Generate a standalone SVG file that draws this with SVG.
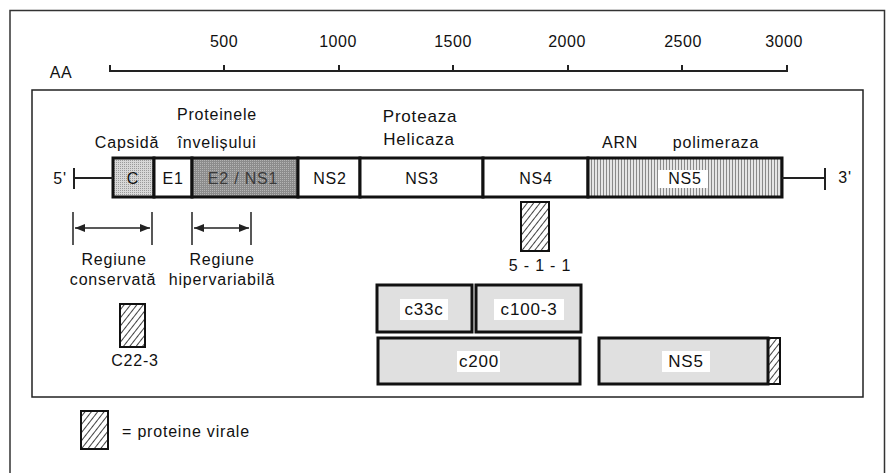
<svg xmlns="http://www.w3.org/2000/svg" width="886" height="473" viewBox="0 0 886 473">
  <style>
    text { font-family: "Liberation Sans", Arial, sans-serif; fill: #111; }
    .scale { font-size: 16px; letter-spacing: 0.5px; text-anchor: middle; }
    .lbl { font-size: 16px; letter-spacing: 0.8px; text-anchor: middle; }
    .seg { stroke: #111; stroke-width: 3; }
    .ag { fill: #e0e0e0; stroke: #111; stroke-width: 3; }
    .hatch { fill: url(#hatch); stroke: #111; stroke-width: 2; }
    .line { stroke: #222; stroke-width: 2; fill: none; }
    .thin { stroke: #222; stroke-width: 1.5; fill: none; }
  </style>
  <defs>
    <pattern id="hatch" width="5" height="5" patternUnits="userSpaceOnUse" patternTransform="rotate(38)">
      <rect width="5" height="5" fill="#fff"/>
      <line x1="0" y1="0" x2="0" y2="5" stroke="#111" stroke-width="1.6"/>
    </pattern>
    <pattern id="stripes" width="3" height="4" patternUnits="userSpaceOnUse">
      <rect width="3" height="4" fill="#e6e6e6"/>
      <line x1="0.5" y1="0" x2="0.5" y2="4" stroke="#8a8a8a" stroke-width="1"/>
    </pattern>
    <pattern id="stipple" width="2" height="2" patternUnits="userSpaceOnUse">
      <rect width="2" height="2" fill="#d8d8d8"/>
      <rect width="1" height="1" fill="#9a9a9a"/>
    </pattern>
    <pattern id="dark" width="2" height="2" patternUnits="userSpaceOnUse">
      <rect width="2" height="2" fill="#8c8c8c"/>
      <rect width="1" height="1" fill="#b4b4b4"/>
    </pattern>
    <marker id="arrow" viewBox="0 0 10 8" refX="10" refY="4" markerWidth="10" markerHeight="8" markerUnits="userSpaceOnUse" orient="auto-start-reverse">
      <path d="M0,0 L10,4 L0,8 Z" fill="#222"/>
    </marker>
  </defs>

  <rect width="886" height="473" fill="#fff"/>

  <!-- outer border (open at the bottom) -->
  <path d="M10,473 V10.5 H884.5 V473" fill="none" stroke="#333" stroke-width="1.5"/>

  <!-- amino-acid scale -->
  <g id="scale">
    <text x="61" y="78" class="scale" style="font-size:16px">AA</text>
    <path class="line" d="M110,65 V71 H787 V65 M224,65 V71 M339,65 V71 M453,65 V71 M568,65 V71 M682,65 V71"/>
    <text x="224" y="47" class="scale">500</text>
    <text x="338" y="47" class="scale">1000</text>
    <text x="453" y="47" class="scale">1500</text>
    <text x="567" y="47" class="scale">2000</text>
    <text x="683" y="47" class="scale">2500</text>
    <text x="784" y="47" class="scale">3000</text>
  </g>

  <!-- inner frame -->
  <rect x="32" y="90" width="831" height="307" fill="none" stroke="#222" stroke-width="1.5"/>

  <!-- functional labels -->
  <g id="labels">
    <text x="127" y="148" class="lbl">Capsidă</text>
    <text x="217" y="120" class="lbl">Proteinele</text>
    <text x="217" y="148" class="lbl">învelișului</text>
    <text x="420" y="122" class="lbl" style="font-size:17px">Proteaza</text>
    <text x="419" y="145" class="lbl" style="font-size:17px">Helicaza</text>
    <text x="620" y="148" class="lbl">ARN</text>
    <text x="716" y="148" class="lbl">polimeraza</text>
  </g>

  <!-- genome ends -->
  <g id="end5">
    <text x="60" y="184" class="lbl">5'</text>
  </g>
  <g id="end3">
    <text x="845" y="183" class="lbl">3'</text>
  </g>

  <!-- genome segments -->
  <g id="seg-C">
    <rect x="113" y="158" width="41" height="39" fill="url(#stipple)" class="seg"/>
    <text x="133" y="184" class="lbl">C</text>
  </g>
  <g id="seg-E1">
    <rect x="154" y="158" width="38" height="39" fill="#fff" class="seg"/>
    <text x="173" y="184" class="lbl">E1</text>
  </g>
  <g id="seg-E2NS1">
    <rect x="192" y="158" width="106" height="39" fill="url(#dark)" class="seg"/>
    <text x="243" y="184" class="lbl" style="fill:#3a3a3a">E2 / NS1</text>
  </g>
  <g id="seg-NS2">
    <rect x="298" y="158" width="62" height="39" fill="#fff" class="seg"/>
    <text x="330" y="184" class="lbl">NS2</text>
  </g>
  <g id="seg-NS3">
    <rect x="360" y="158" width="123" height="39" fill="#fff" class="seg"/>
    <text x="422" y="184" class="lbl">NS3</text>
  </g>
  <g id="seg-NS4">
    <rect x="483" y="158" width="105" height="39" fill="#fff" class="seg"/>
    <text x="536" y="184" class="lbl">NS4</text>
  </g>
  <g id="seg-NS5">
    <rect x="588" y="158" width="194" height="39" fill="url(#stripes)" class="seg"/>
    <rect x="658" y="170" width="50" height="18" fill="#fff"/>
    <text x="685" y="184" class="lbl">NS5</text>
  </g>

  <!-- regions -->
  <g id="region-conserved">
    <text x="114" y="265" class="lbl">Regiune</text>
    <text x="113" y="285" class="lbl">conservată</text>
  </g>
  <g id="region-hypervariable">
    <text x="222" y="265" class="lbl">Regiune</text>
    <text x="222" y="285" class="lbl">hipervariabilă</text>
  </g>

  <!-- antigens -->
  <g id="ag-c22-3">
    <rect x="120" y="304" width="25" height="43" class="hatch"/>
    <text x="135" y="366" class="lbl">C22-3</text>
  </g>
  <g id="ag-5-1-1">
    <rect x="521" y="202" width="28" height="49" class="hatch"/>
    <text x="540" y="271" class="lbl">5 - 1 - 1</text>
  </g>
  <g id="ag-c33c">
    <rect x="377" y="285" width="95" height="47" class="ag"/>
    <rect x="400" y="299" width="48" height="21" fill="#fff"/>
    <text x="424" y="315" class="lbl" style="font-size:17px">c33c</text>
  </g>
  <g id="ag-c100-3">
    <rect x="476" y="285" width="105" height="47" class="ag"/>
    <rect x="494" y="299" width="70" height="21" fill="#fff"/>
    <text x="529" y="315" class="lbl" style="font-size:17px">c100-3</text>
  </g>
  <g id="ag-c200">
    <rect x="378" y="338" width="202" height="46" class="ag"/>
    <rect x="457" y="351" width="43" height="21" fill="#fff"/>
    <text x="479" y="367" class="lbl" style="font-size:17px">c200</text>
  </g>
  <g id="ag-NS5">
    <rect x="768" y="338" width="12" height="46" class="hatch"/>
    <rect x="599" y="338" width="169" height="46" class="ag"/>
    <rect x="662" y="351" width="48" height="21" fill="#fff"/>
    <text x="686" y="367" class="lbl" style="font-size:17px">NS5</text>
  </g>

  <!-- legend -->
  <g id="legend">
    <rect x="81" y="411" width="27" height="38" class="hatch"/>
    <text x="122" y="437" style="font-size:16px;letter-spacing:0.8px">= proteine virale</text>
  </g>

  <!-- connectors: genome end lines and region spans -->
  <g id="connectors">
    <path class="line" d="M74,168 V189 M74,178 H113"/>
    <path class="line" d="M782,178 H825 M825,168 V190"/>
    <path class="thin" d="M73,212 V245 M152,212 V245 M192,212 V245 M251,212 V245"/>
    <line class="thin" x1="75" y1="228" x2="150" y2="228" marker-start="url(#arrow)" marker-end="url(#arrow)"/>
    <line class="thin" x1="194" y1="228" x2="249" y2="228" marker-start="url(#arrow)" marker-end="url(#arrow)"/>
  </g>
</svg>
